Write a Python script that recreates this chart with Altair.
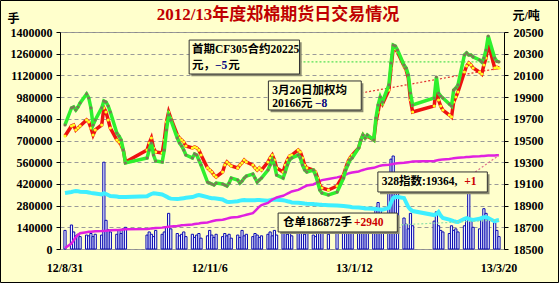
import altair as alt
import pandas as pd

# ---------------- data ----------------
holidays = ["2012-10-01", "2012-10-02", "2012-10-03", "2012-10-04", "2012-10-05",
            "2013-01-01", "2013-01-02", "2013-01-03",
            "2013-02-11", "2013-02-12", "2013-02-13", "2013-02-14", "2013-02-15"]
trade_dates = [d for d in pd.bdate_range("2012-08-31", "2013-03-20")
               if d.strftime("%Y-%m-%d") not in holidays]
day_num = [(d - trade_dates[0]).days for d in trade_dates]

tick_days = [0, 67, 134, 201]
tick_labels = ["12/8/31", "12/11/6", "13/1/12", "13/3/20"]

# 首期合约结算价 (green)
green_price = [
    19643,
    19800, 19809, 19781, 19809, 19846,
    19929, 19892, 19800, 19643, 19689,
    19800, 19864, 19855, 19818, 19763,
    19569, 19541, 19505, 19412, 19293,
    19339, 19412, 19477, 19366, 19311,
    19302, 19412, 19597, 19735, 19689,
    19523, 19477, 19449, 19412, 19366,
    19339, 19376, 19366, 19320, 19274,
    19117, 19108, 19099, 19090, 19108,
    19099, 19090, 19081, 19108, 19154,
    19136, 19108, 19127, 19154, 19173,
    19191, 19154, 19117, 19136, 19154,
    19228, 19274, 19320, 19274, 19182,
    19154, 19210, 19274, 19320, 19339,
    19366, 19339, 19274, 19228, 19210,
    19228, 19182, 19117, 19044, 19016,
    18998, 19025,
    19154, 19228, 19274, 19320, 19339,
    19431, 19505, 19551, 19523, 19551,
    19505, 19707, 19827, 19901, 19855,
    20012, 20214, 20380, 20371, 20334,
    20196, 20168, 20104, 19938, 19827,
    19892, 20085, 19938, 19910, 19892,
    19836, 19818, 19965, 19984, 20012,
    20288, 20307, 20288, 20288, 20270,
    20242, 20224, 20260, 20334, 20463,
    20260, 20230, 20225]

# 加权均价 (red)
red_price = [
    19541,
    19634, 19643, 19597, 19615, 19634,
    19689, 19671, 19615, 19551, 19597,
    19643, 19800, 19763, 19689, 19615,
    19505, 19486, 19458, 19412, 19302,
    19412, 19477, 19523, 19431, 19394,
    19385, 19505, 19671, 19763, 19707,
    19551, 19523, 19505, 19486, 19449,
    19431, 19440, 19431, 19412, 19366,
    19247, 19228, 19210, 19182, 19164,
    19210, 19274, 19302, 19283, 19265,
    19247, 19274, 19293, 19320, 19302,
    19274, 19247, 19228, 19247, 19228,
    19302, 19339, 19366, 19320, 19247,
    19210, 19274, 19320, 19357, 19366,
    19412, 19394, 19339, 19274, 19247,
    19228, 19210, 19154, 19090, 19062,
    19044, 19081,
    19182, 19247, 19302, 19339, 19366,
    19431, 19505, 19551, 19523, 19541,
    19505, 19671, 19763, 19873, 19836,
    19965, 20168, 20353, 20343, 20316,
    20187, 20150, 20076, 19873, 19763,
    19818, 20012, 19873, 19818, 19781,
    19735, 19717, 19855, 19901, 19947,
    20131, 20187, 20214, 20196, 20168,
    20131, 20113, 20196, 20260, 20399,
    20168, 20174, 20166]

# 328 指数 (magenta)
index328 = [
    18510,
    18550, 18580, 18610, 18630, 18645,
    18655, 18658, 18660, 18662, 18663,
    18665, 18667, 18668, 18670, 18672,
    18674, 18676, 18678, 18680, 18682,
    18685, 18687, 18690, 18692, 18694,
    18697, 18700, 18702, 18705, 18708,
    18712, 18715, 18718, 18720, 18722,
    18726, 18730, 18733, 18736, 18740,
    18745, 18750, 18755, 18760, 18765,
    18770, 18775, 18780, 18785, 18790,
    18795, 18800, 18805, 18810, 18815,
    18830, 18850, 18870, 18890, 18905,
    18925, 18940, 18955, 18965, 18975,
    18990, 19000, 19010, 19020, 19030,
    19045, 19055, 19065, 19075, 19085,
    19095, 19105, 19115, 19125, 19135,
    19145, 19160,
    19175, 19185, 19195, 19200, 19205,
    19215, 19222, 19228, 19234, 19240,
    19248, 19255, 19262, 19268, 19272,
    19276, 19280, 19284, 19287, 19290,
    19294, 19297, 19300, 19303, 19306,
    19312, 19316, 19320, 19323, 19326,
    19330, 19333, 19336, 19339, 19342,
    19345, 19347, 19349, 19351, 19353,
    19355, 19357, 19358, 19360, 19361,
    19362, 19363, 19364]

# 成交量 (千手)
volume_k = [
    120,
    155, 110, 85, 95, 80,
    90, 85, 100, 80, 95,
    90, 560, 185, 125, 110,
    95, 120, 100, 130, 140,
    90, 110, 95, 80, 120,
    95, 110, 140, 230, 130,
    100, 85, 95, 110, 80,
    95, 75, 90, 100, 70,
    85, 120, 90, 75, 95,
    80, 100, 85, 95, 70,
    90, 75, 120, 85, 95,
    80, 100, 90, 75, 85,
    95, 110, 85, 120, 90,
    100, 130, 95, 110, 85,
    120, 100, 140, 95, 110,
    90, 80, 130, 150, 100,
    95, 120,
    140, 110, 160, 190, 130,
    150, 200, 170, 140, 120,
    130, 250, 300, 260, 180,
    370, 580, 600, 420, 370,
    200, 160, 130, 230, 150,
    180, 240, 150, 120, 110,
    100, 150, 120, 130, 110,
    150, 200, 360, 180, 140,
    130, 200, 260, 230, 190,
    170, 120, 80]

# 仓单 (千手)
receipts_k = [
    361,
    368, 372, 374, 372, 370,
    368, 365, 362, 360, 358,
    352, 360, 355, 348, 342,
    338, 336, 335, 335, 335,
    340, 348, 355, 360, 358,
    352, 345, 338, 330, 325,
    323, 324, 326, 328, 330,
    335, 340, 345, 348, 345,
    335, 330, 328, 328, 326,
    320, 312, 305, 303, 304,
    308, 312, 315, 316, 315,
    314, 315, 316, 316, 315,
    312, 315, 318, 320, 318,
    315, 312, 308, 305, 300,
    298, 297, 295, 293, 292,
    290, 288, 287, 286, 285,
    283, 280,
    278, 276, 274, 272, 270,
    268, 266, 264, 262, 262,
    260, 258, 256, 255, 254,
    265, 300, 329, 335, 335,
    329, 300, 271, 255, 245,
    219, 225, 239, 215, 200,
    190, 185, 180, 176, 174,
    195, 200, 195, 190, 188,
    195, 200, 205, 206, 200,
    178, 183.932, 186.872]

df = pd.DataFrame({
    "day": day_num,
    "green": green_price,
    "red": red_price,
    "idx": index328,
    "vol": [v * 1000 for v in volume_k],
    "rcpt": [v * 1000 for v in receipts_k],
})
ticks_df = pd.DataFrame({"day": tick_days, "label": tick_labels})

# annotation boxes (in day / 手 units)
box_x = [57.5, 94.2, 144.9, 98.7]
box_x2 = [108.6, 137.2, 195.6, 153.9]
box_y = [1348000, 1084000, 497000, 232000]
box_y2 = [1129000, 897000, 368000, 110000]
boxes = pd.DataFrame({"x": box_x, "x2": box_x2, "y": box_y, "y2": box_y2})
shadows = pd.DataFrame({"x": [v + 1.0 for v in box_x], "x2": [v + 1.0 for v in box_x2],
                        "y": [v - 14000 for v in box_y], "y2": [v - 14000 for v in box_y2]})

note_text = ["首期CF305合约20225", "元，", "−5", "元",
             "3月20日加权均", "20166元", "−8",
             "328指数:19364,", "+1",
             "仓单186872手", "+2940"]
note_x = [58.8, 58.8, 69.5, 75.6, 96.0, 96.0, 115.8, 146.7, 184.9, 101.0, 133.8]
note_y = [1284000, 1181000, 1181000, 1181000, 1019000, 936000, 936000, 432000, 432000, 168000, 168000]
note_color = ["black", "black", "#000080", "black", "black", "black", "#000080",
              "black", "#CC0000", "black", "#CC0000"]
notes = pd.DataFrame({"x": note_x, "y": note_y, "t": note_text, "c": note_color})

# connector lines
left_conn = pd.DataFrame({"x": [153.9], "x2": [201], "y": [155000], "y2": [187000]})
right_conn = pd.DataFrame({"x": [108.6, 137.2, 190.0], "x2": [201, 201, 201],
                           "y": [20225, 19938, 19210], "y2": [20225, 20166, 19364],
                           "c": ["#55E055", "#E03030", "#E07090"]})

title_text = "2012/13年度郑棉期货日交易情况"

# ---------------- chart ----------------
FONT = "Liberation Serif, Noto Sans CJK SC"
BG = "#FFFFCC"

x_scale = alt.Scale(domain=[0, 201], nice=False, zero=False)
left_scale = alt.Scale(domain=[0, 1400000], nice=False)
right_scale = alt.Scale(domain=[18500, 20500], nice=False, zero=False)

x_axis = alt.Axis(values=tick_days, labels=False, title=None, ticks=False, grid=False,
                  domainColor="black")

left_axis = alt.Axis(orient="left", values=list(range(0, 1400001, 140000)), format="d",
                     title="手", titleAngle=0, titleX=-53, titleY=-14, titleAlign="left",
                     titleBaseline="middle", titleFont=FONT, titleFontSize=12, titleFontWeight="bold",
                     titleColor="black",
                     grid=True, gridDash=[4, 3], gridColor="#9A9A9A", domainColor="black",
                     tickColor="black", tickSize=4, labelPadding=4, labelFont=FONT,
                     labelFontWeight="bold", labelFontSize=12, labelColor="black")

right_axis = alt.Axis(orient="right", values=list(range(18500, 20501, 200)), format="d",
                      title="元/吨", titleAngle=0, titleX=8, titleY=-17, titleAlign="left",
                      titleBaseline="middle", titleFont=FONT, titleFontSize=12, titleFontWeight="bold",
                      titleColor="black",
                      grid=False, domainColor="black", tickColor="black", tickSize=4, labelPadding=5,
                      labelFont=FONT, labelFontWeight="bold", labelFontSize=12, labelColor="black")

xq = alt.X("day:Q", scale=x_scale, axis=None)


def ly(field):
    return alt.Y(field, scale=left_scale, axis=None)


def ry(field):
    return alt.Y(field, scale=right_scale, axis=None)


bars = alt.Chart(df).mark_bar(size=2.2, fill="#F2F5FF", stroke="#0A0AB0", strokeWidth=1).encode(
    x=alt.X("day:Q", scale=x_scale, axis=x_axis),
    y=alt.Y("vol:Q", scale=left_scale, axis=left_axis),
)
cyan = alt.Chart(df).mark_line(color="#3EEFFF", strokeWidth=4).encode(x=xq, y=ly("rcpt:Q"))

shadow_rects = alt.Chart(shadows).mark_rect(color="#8A8A70").encode(
    x=alt.X("x:Q", scale=x_scale, axis=None), x2="x2:Q", y=ly("y:Q"), y2="y2:Q")
box_rects = alt.Chart(boxes).mark_rect(fill=BG, stroke="#333333", strokeWidth=1).encode(
    x=alt.X("x:Q", scale=x_scale, axis=None), x2="x2:Q", y=ly("y:Q"), y2="y2:Q")
note_marks = alt.Chart(notes).mark_text(align="left", baseline="middle", font=FONT,
                                        fontSize=11.5, fontWeight="bold").encode(
    x=alt.X("x:Q", scale=x_scale, axis=None), y=ly("y:Q"), text="t:N",
    color=alt.Color("c:N", scale=None))
left_conn_mark = alt.Chart(left_conn).mark_rule(color="#8FE0A8", strokeDash=[2, 2], strokeWidth=1.2).encode(
    x=alt.X("x:Q", scale=x_scale, axis=None), x2="x2:Q", y=ly("y:Q"), y2="y2:Q")

magenta = alt.Chart(df).mark_line(color="#E020E0", strokeWidth=2.5).encode(
    x=xq, y=alt.Y("idx:Q", scale=right_scale, axis=right_axis))
red_line = alt.Chart(df).mark_line(color="#EE1111", strokeWidth=3.5).encode(x=xq, y=ry("red:Q"))
red_pts = alt.Chart(df).mark_circle(color="#FFFF22", size=10, opacity=1).encode(x=xq, y=ry("red:Q"))
green_line = alt.Chart(df).mark_line(color="#2EF02E", strokeWidth=3.5).encode(x=xq, y=ry("green:Q"))
green_pts = alt.Chart(df).mark_circle(color="#7A7A55", size=10, opacity=1).encode(x=xq, y=ry("green:Q"))
right_conn_mark = alt.Chart(right_conn).mark_rule(strokeDash=[2, 2], strokeWidth=1.2).encode(
    x=alt.X("x:Q", scale=x_scale, axis=None), x2="x2:Q", y=ry("y:Q"), y2="y2:Q",
    color=alt.Color("c:N", scale=None))

x_labels = alt.Chart(ticks_df).mark_text(
    font=FONT, fontSize=12, fontWeight="bold", color="black", baseline="middle", align="center"
).encode(x=alt.X("day:Q", scale=x_scale, axis=None), y=alt.value(236), text="label:N")

title_mark = alt.Chart(pd.DataFrame({"t": [title_text]})).mark_text(
    font=FONT, fontSize=17, fontWeight="bold", color="#C00000", baseline="middle", align="center"
).encode(x=alt.value(218), y=alt.value(-17), text="t:N")

border = alt.Chart(pd.DataFrame({"a": [0]})).mark_rect(
    filled=False, stroke="black", strokeWidth=1).encode(
    x=alt.value(-59.5), x2=alt.value(498.5), y=alt.value(-31.5), y2=alt.value(250.5))

chart = alt.layer(
    bars, cyan, left_conn_mark, magenta, right_conn_mark,
    red_line, red_pts, green_line, green_pts,
    shadow_rects, box_rects, note_marks, x_labels, title_mark, border,
).resolve_scale(y="independent").properties(
    width=444, height=217,
    padding={"left": 60, "top": 32, "right": 55, "bottom": 34},
    autosize=alt.AutoSizeParams(type="none"),
).configure(background=BG).configure_view(stroke="#8C8C8C", strokeWidth=1)

chart.save("out.html", embed_options={"renderer": "svg", "actions": False})
